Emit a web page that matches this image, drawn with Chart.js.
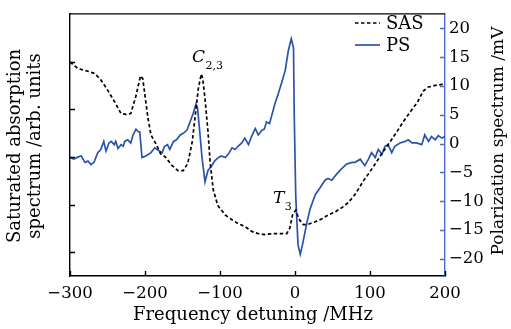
<!DOCTYPE html>
<html><head><meta charset="utf-8">
<script src="https://cdn.jsdelivr.net/npm/chart.js@4"></script>
<style>html,body{margin:0;padding:0;background:#fff;}canvas{display:block;}</style>
</head><body>
<canvas id="c" width="511" height="329"></canvas>
<script>
// ---- data ----
const sasX = [-300,-289,-279,-267,-259,-249,-240,-232,-225,-219,-212,-206,-203,-200,-196,-192,-185,-179,-173,-164,-156,-149,-143,-137,-133,-129,-125,-123,-120,-116,-113,-109,-103,-93,-84,-76,-67,-57,-49,-41,-29,-20,-11,-7,-3,1,5,11,17,27,36,44,53,63,71,80,91,100,109,117,127,136,144,153,163,171,177,187,196,200];
const sasY = [3.99,3.85,3.81,3.75,3.62,3.38,3.14,2.91,2.89,2.91,3.28,3.70,3.64,3.28,2.81,2.46,2.26,2.06,2.00,1.82,1.71,1.71,1.86,2.32,2.87,3.42,3.74,3.64,3.22,2.53,1.86,1.31,0.98,0.78,0.68,0.60,0.54,0.43,0.39,0.37,0.39,0.39,0.39,0.50,0.80,0.88,0.70,0.58,0.58,0.64,0.70,0.78,0.84,0.94,1.04,1.21,1.49,1.69,1.90,2.10,2.32,2.53,2.73,2.93,3.14,3.38,3.46,3.50,3.52,3.52];
const psX = [-300,-295,-289,-285,-280,-276,-272,-268,-263,-259,-255,-252,-248,-245,-241,-239,-236,-232,-229,-227,-223,-219,-216,-212,-209,-207,-204,-199,-192,-187,-182,-177,-174,-170,-167,-162,-158,-153,-149,-144,-140,-136,-132,-130,-127,-124,-120,-116,-111,-107,-102,-98,-93,-89,-84,-80,-76,-71,-67,-62,-58,-53,-49,-44,-41,-38,-34,-31,-27,-22,-18,-13,-9,-5,-2,-1,1,4,7,10,16,20,27,33,40,44,49,56,62,69,76,80,87,93,98,102,107,111,116,120,124,129,133,140,147,151,156,162,169,173,178,182,187,191,196,200];
const psY = [-2.40,-2.69,-2.30,-2.13,-3.24,-3.03,-3.65,-3.24,-1.56,-1.01,0.39,-1.29,0.12,0.39,-0.17,0.39,-0.84,-0.17,-0.45,0.39,0.67,0.12,1.51,2.52,2.07,2.07,-2.40,-2.13,-1.56,-0.72,-1.18,-1.56,-0.45,-0.17,-1.01,0.39,0.67,1.51,1.80,2.35,3.75,5.16,6.84,6.27,2.07,-2.40,-6.61,-4.66,-3.82,-2.97,-2.40,-2.13,-2.40,-1.85,-0.72,-1.01,-0.45,0.12,0.96,-0.17,1.23,2.64,1.51,2.35,2.52,3.75,3.48,4.87,6.84,8.79,10.47,12.72,16.08,18.20,16.64,4.87,-9.13,-17.53,-19.21,-17.53,-13.61,-11.38,-8.86,-7.73,-6.34,-6.05,-6.34,-5.21,-4.37,-3.53,-3.24,-3.24,-2.69,-3.82,-2.69,-1.56,-2.40,-1.01,-1.85,-0.45,-0.17,-1.56,-0.45,0.12,0.39,0.67,0.12,0.12,-0.17,1.51,0.39,1.23,0.67,1.39,0.96,1.23];
const xTicks = [-300,-200,-100,0,100,200];
const sasTicks = [0,1,2,3,4];
const psTicks = [-20,-15,-10,-5,0,5,10,15,20];
const seriesNames = ['SAS','PS'];
const peakLabels = [{main:'C', sub:'2,3', x:-137.3, y:3.99}, {main:'T', sub:'3', x:-29.5, y:1.04}];
const xTitle = 'Frequency detuning /MHz';
const leftTitle = ['Saturated absorption','spectrum /arb. units'];
const rightTitle = 'Polarization spectrum /mV';

// ---- styles ----
const FONT = '"DejaVu Serif", serif';
const BLUE = '#2a54ac';
const AXBLUE = '#4a70c0';
const SAS_DASH = [3.5, 2.5];

const toPts = (xs, ys) => xs.map((x, i) => ({x, y: ys[i]}));
const minusFmt = v => String(v).replace('-', '\u2212');

const deco = {
  id: 'deco',
  afterDraw(chart) {
    const {ctx, chartArea: a, scales} = chart;
    ctx.save();
    ctx.lineWidth = 1.4;
    ctx.strokeStyle = '#000';
    ctx.beginPath(); ctx.moveTo(a.left, a.top); ctx.lineTo(a.right, a.top); ctx.stroke();
    const tl = 5;
    ctx.beginPath();
    xTicks.forEach(v => { const p = Math.round(scales.x.getPixelForValue(v)) + 0.5; ctx.moveTo(p, a.bottom); ctx.lineTo(p, a.bottom - tl); });
    sasTicks.forEach(v => { const p = Math.round(scales.y.getPixelForValue(v)) + 0.5; ctx.moveTo(a.left, p); ctx.lineTo(a.left + tl, p); });
    ctx.stroke();
    ctx.strokeStyle = AXBLUE;
    ctx.beginPath();
    psTicks.forEach(v => { const p = Math.round(scales.y2.getPixelForValue(v)) + 0.5; ctx.moveTo(a.right, p); ctx.lineTo(a.right - tl, p); });
    ctx.stroke();

    // titles
    ctx.fillStyle = '#000';
    ctx.font = '18px ' + FONT;
    ctx.textAlign = 'center'; ctx.textBaseline = 'middle';
    ctx.fillText(xTitle, 253, 315);
    [15, 35].forEach((x, i) => {
      ctx.save(); ctx.translate(x, 146); ctx.rotate(-Math.PI / 2); ctx.fillText(leftTitle[i], 0, 0); ctx.restore();
    });
    ctx.font = '17px ' + FONT;
    ctx.save(); ctx.translate(499, 141); ctx.rotate(-Math.PI / 2); ctx.fillText(rightTitle, 0, 0); ctx.restore();

    // legend
    ctx.font = '18px ' + FONT;
    const ds = chart.data.datasets;
    ctx.textAlign = 'left';
    [23, 45].forEach((y, i) => {
      ctx.save();
      ctx.strokeStyle = ds[i].borderColor; ctx.lineWidth = ds[i].borderWidth;
      ctx.setLineDash(ds[i].borderDash || []);
      ctx.beginPath(); ctx.moveTo(355, y); ctx.lineTo(380, y); ctx.stroke();
      ctx.restore();
      ctx.fillText(ds[i].label, 386, y + 1);
    });

    // peak labels
    ctx.textBaseline = 'alphabetic';
    peakLabels.forEach(l => {
      const px = scales.x.getPixelForValue(l.x), py = scales.y.getPixelForValue(l.y);
      ctx.font = 'italic 17px ' + FONT;
      ctx.fillText(l.main, px, py);
      const w = ctx.measureText(l.main).width;
      ctx.font = '11px ' + FONT;
      ctx.fillText(l.sub, px + w + 0.5, py + 7);
    });
    ctx.restore();
  }
};

new Chart(document.getElementById('c'), {
  type: 'line',
  data: {
    datasets: [
      {label: seriesNames[0], data: toPts(sasX, sasY), yAxisID: 'y', borderColor: '#000', borderWidth: 1.7, borderDash: SAS_DASH, pointRadius: 0, tension: 0, fill: false},
      {label: seriesNames[1], data: toPts(psX, psY), yAxisID: 'y2', borderColor: BLUE, borderWidth: 1.7, pointRadius: 0, tension: 0, fill: false}
    ]
  },
  options: {
    responsive: false, animation: false, devicePixelRatio: 1,
    layout: {padding: {top: 5, left: 0, right: 0, bottom: 0}},
    plugins: {legend: {display: false}, tooltip: {enabled: false}},
    scales: {
      x: {
        type: 'linear', min: -300, max: 200,
        afterFit: s => { s.height = 53; },
        afterBuildTicks: s => { s.ticks = xTicks.map(v => ({value: v})); },
        grid: {display: false, drawTicks: false},
        border: {display: true, color: '#000', width: 1.4},
        ticks: {color: '#000', font: {family: FONT, size: 16.5}, padding: 8, maxRotation: 0, callback: minusFmt}
      },
      y: {
        position: 'left', min: -0.5, max: 5.0,
        afterFit: s => { s.width = 70; },
        grid: {display: false, drawTicks: false},
        border: {display: true, color: '#000', width: 1.4},
        ticks: {display: false}
      },
      y2: {
        position: 'right', min: -22.97, max: 22.52,
        afterFit: s => { s.width = 66; },
        afterBuildTicks: s => { s.ticks = psTicks.map(v => ({value: v})); },
        grid: {display: false, drawTicks: false},
        border: {display: true, color: AXBLUE, width: 1.4},
        ticks: {color: '#000', font: {family: FONT, size: 16.5}, padding: 4, callback: minusFmt}
      }
    }
  },
  plugins: [deco]
});
</script>
</body></html>
